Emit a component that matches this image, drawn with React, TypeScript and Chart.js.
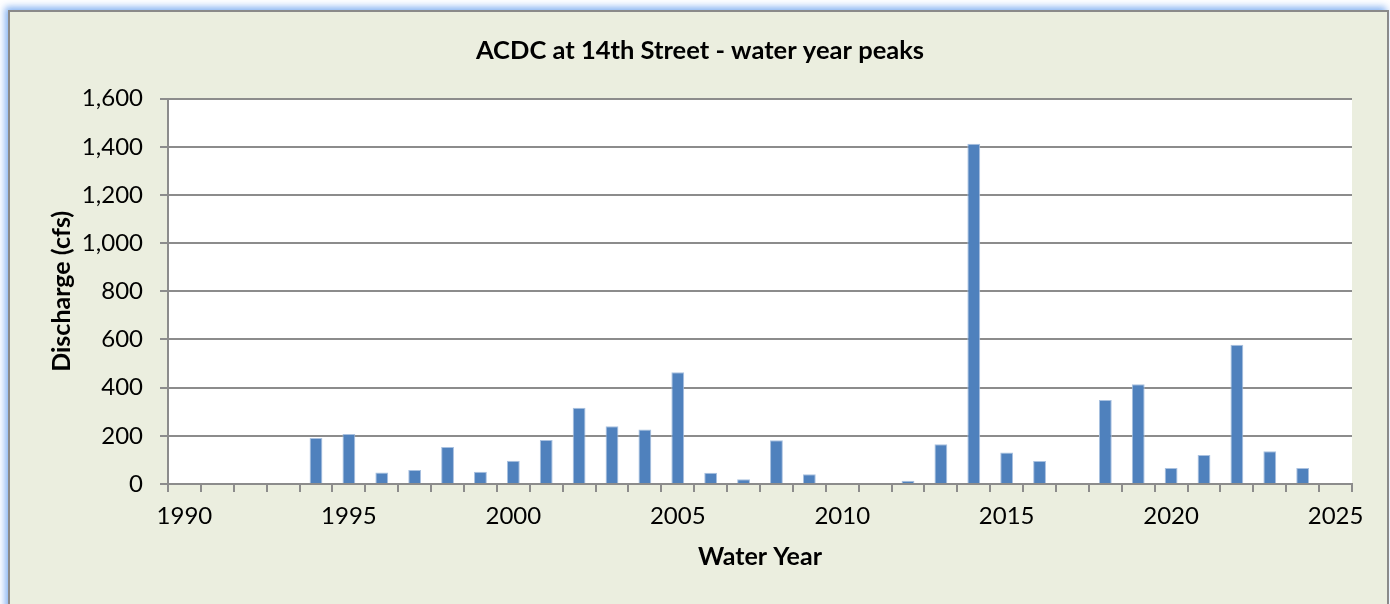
import React, { useEffect, useRef } from "react";
import { Chart, registerables } from "chart.js";

Chart.register(...registerables);

const years: string[] = [
  "1990", "1991", "1992", "1993", "1994", "1995", "1996", "1997", "1998", "1999",
  "2000", "2001", "2002", "2003", "2004", "2005", "2006", "2007", "2008", "2009",
  "2010", "2011", "2012", "2013", "2014", "2015", "2016", "2017", "2018", "2019",
  "2020", "2021", "2022", "2023", "2024", "2025",
];

const peaks: (number | null)[] = [
  null, null, null, null, 191, 208, 48, 58, 154, 51,
  97, 183, 317, 240, 226, 464, 47, 20, 182, 40,
  null, null, 13, 165, 1413, 131, 95, null, 349, 414,
  66, 120, 578, 136, 66, null,
];

const yMin = 0;
const yMax = 1600;
const yStep = 200;

const FONT = "Lato, 'Open Sans', sans-serif";
const GRID = "#8c8c8c";

export default function App() {
  const ref = useRef<HTMLCanvasElement | null>(null);

  useEffect(() => {
    if (!ref.current) return;
    const chart = new Chart(ref.current, {
      type: "bar",
      data: {
        labels: years,
        datasets: [
          {
            label: "Peak discharge",
            data: peaks,
            backgroundColor: "#4F81BD",
            borderColor: "#A9C1E0",
            borderWidth: 1,
            barPercentage: 0.39,
            categoryPercentage: 1,
          },
        ],
      },
      options: {
        responsive: false,
        animation: false,
        layout: { padding: { left: 37, right: 34, top: 0, bottom: 0 } },
        plugins: {
          legend: { display: false },
          tooltip: { enabled: false },
          title: {
            display: true,
            text: "ACDC at 14th Street - water year peaks",
            color: "#000",
            font: { family: FONT, size: 25.5, weight: "bold", lineHeight: 1.2 },
            padding: { top: 22, bottom: 33 },
          },
        },
        scales: {
          x: {
            type: "category",
            offset: true,
            grid: {
              offset: true,
              drawOnChartArea: false,
              drawTicks: true,
              tickLength: 8,
              color: GRID,
              lineWidth: 2,
            },
            border: { display: true, color: GRID, width: 2 },
            ticks: {
              autoSkip: false,
              maxRotation: 0,
              color: "#000",
              padding: 10,
              font: { family: FONT, size: 24 },
              callback: function (this: any, value: any) {
                const lab = years[value as number];
                return Number(lab) % 5 === 0 ? lab : "";
              },
            },
            title: {
              display: true,
              text: "Water Year",
              color: "#000",
              font: { family: FONT, size: 25, weight: "bold", lineHeight: 1.2 },
              padding: { top: 0, bottom: 32 },
            },
            afterFit: (scale: any) => {
              scale.height = 120;
            },
          },
          y: {
            min: yMin,
            max: yMax,
            grid: {
              color: GRID,
              lineWidth: 2,
              drawTicks: true,
              tickLength: 8,
            },
            border: { display: true, color: GRID, width: 2 },
            ticks: {
              stepSize: yStep,
              color: "#000",
              padding: 17,
              font: { family: FONT, size: 24 },
            },
            title: {
              display: true,
              text: "Discharge (cfs)",
              color: "#000",
              font: { family: FONT, size: 25, weight: "bold", lineHeight: 1.2 },
              padding: { top: -1, bottom: 0 },
            },
            afterFit: (scale: any) => {
              scale.width = 120;
            },
          },
        },
      },
      plugins: [
        {
          id: "plotBg",
          beforeDraw: (c: any) => {
            const { ctx, chartArea } = c;
            ctx.save();
            ctx.fillStyle = "#ffffff";
            ctx.fillRect(chartArea.left, chartArea.top, chartArea.right - chartArea.left, chartArea.bottom - chartArea.top);
            ctx.restore();
          },
        },
      ],
    });
    return () => chart.destroy();
  }, []);

  return (
    <div
      style={{
        position: "fixed",
        left: 0,
        top: 0,
        width: 1390,
        height: 604,
        overflow: "hidden",
        background: "#ffffff",
      }}
    >
      <div
        style={{
          position: "absolute",
          left: 8,
          top: 10,
          width: 1377,
          height: 620,
          background: "#EBEEDF",
          border: "2px solid #8a8a8a",
          boxShadow: "-3px -3px 7px rgba(120,170,240,0.9)",
        }}
      >
        <canvas ref={ref} width={1375} height={591} style={{ display: "block", position: "absolute", left: 1, top: 1 }} />
      </div>
    </div>
  );
}
